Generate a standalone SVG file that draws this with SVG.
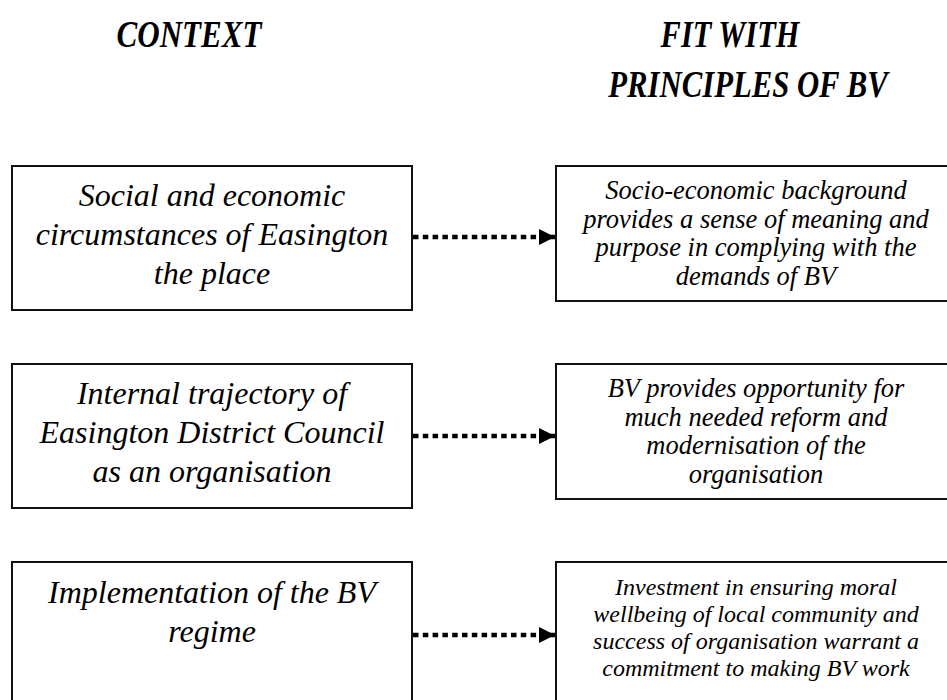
<svg xmlns="http://www.w3.org/2000/svg" width="947" height="700" viewBox="0 0 947 700">
  <style>
    .title { font-family: "Liberation Serif", "Times New Roman", serif; font-style: italic; font-weight: bold; font-size: 32px; fill: #000; text-anchor: middle; }
    .ctx { font-family: "Liberation Serif", "Times New Roman", serif; font-style: italic; font-size: 32px; fill: #000; text-anchor: middle; }
    .fit { font-family: "Liberation Serif", "Times New Roman", serif; font-style: italic; font-size: 26.5px; fill: #000; text-anchor: middle; }
    .fit-sm { font-size: 24px; }
    .box { fill: #fff; stroke: #111; stroke-width: 2; }
    .link { fill: none; stroke: #000; stroke-width: 4.5; stroke-dasharray: 5.5 4.3; }
  </style>
  <defs>
    <marker id="arrow" markerUnits="userSpaceOnUse" markerWidth="17" markerHeight="17" refX="16" refY="8" orient="auto">
      <path d="M0,0 L16,8 L0,16 Z" fill="#000"/>
    </marker>
  </defs>

  <rect width="947" height="700" fill="#fff"/>

  <!-- column headings (slightly condensed, tall bold italic) -->
  <g id="headings">
    <text class="title" transform="translate(189,47) scale(0.97,1.18)">CONTEXT</text>
    <text class="title" transform="translate(730,47) scale(0.95,1.18)">FIT WITH</text>
    <text class="title" transform="translate(748,97) scale(0.96,1.18)">PRINCIPLES OF BV</text>
  </g>

  <!-- context column -->
  <g id="ctx-place">
    <rect class="box" x="12" y="166" width="400" height="144"/>
    <text class="ctx" x="212" y="206">Social and economic</text>
    <text class="ctx" x="212" y="245">circumstances of Easington</text>
    <text class="ctx" x="212" y="284">the place</text>
  </g>
  <g id="ctx-council">
    <rect class="box" x="12" y="364" width="400" height="144"/>
    <text class="ctx" x="212" y="404">Internal trajectory of</text>
    <text class="ctx" x="212" y="443">Easington District Council</text>
    <text class="ctx" x="212" y="482">as an organisation</text>
  </g>
  <g id="ctx-regime">
    <rect class="box" x="12" y="562" width="400" height="150"/>
    <text class="ctx" x="212" y="603">Implementation of the BV</text>
    <text class="ctx" x="212" y="642">regime</text>
  </g>

  <!-- fit-with-BV column -->
  <g id="fit-meaning">
    <rect class="box" x="556" y="166" width="400" height="135"/>
    <text class="fit" x="756" y="199">Socio-economic background</text>
    <text class="fit" x="756" y="228">provides a sense of meaning and</text>
    <text class="fit" x="756" y="256">purpose in complying with the</text>
    <text class="fit" x="756" y="285">demands of BV</text>
  </g>
  <g id="fit-reform">
    <rect class="box" x="556" y="364" width="400" height="135"/>
    <text class="fit" x="756" y="397">BV provides opportunity for</text>
    <text class="fit" x="756" y="426">much needed reform and</text>
    <text class="fit" x="756" y="454">modernisation of the</text>
    <text class="fit" x="756" y="483">organisation</text>
  </g>
  <g id="fit-commitment">
    <rect class="box" x="556" y="562" width="400" height="150"/>
    <text class="fit fit-sm" x="756" y="595">Investment in ensuring moral</text>
    <text class="fit fit-sm" x="756" y="622">wellbeing of local community and</text>
    <text class="fit fit-sm" x="756" y="649">success of organisation warrant a</text>
    <text class="fit fit-sm" x="756" y="676">commitment to making BV work</text>
  </g>

  <!-- dotted connectors -->
  <g id="connectors">
    <path class="link" d="M413,237 L555,237" marker-end="url(#arrow)"/>
    <path class="link" d="M413,436 L555,436" marker-end="url(#arrow)"/>
    <path class="link" d="M413,635 L555,635" marker-end="url(#arrow)"/>
  </g>
</svg>
